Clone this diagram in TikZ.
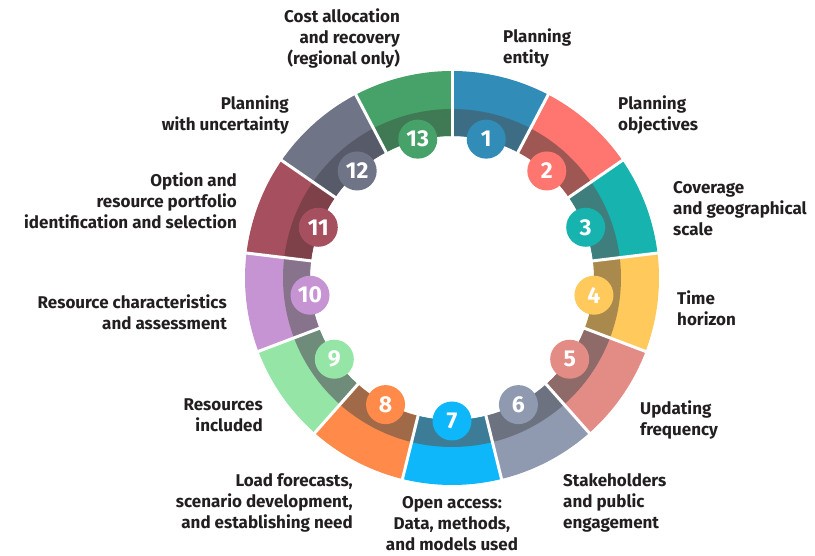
\documentclass[tikz,border=0pt]{standalone}
\usepackage{fontspec}
\setmainfont{Fira Sans}
\definecolor{c1}{HTML}{318CB8}\definecolor{d1}{HTML}{3D6D85}
\definecolor{c2}{HTML}{FF7570}\definecolor{d2}{HTML}{9E5753}
\definecolor{c3}{HTML}{17B3AF}\definecolor{d3}{HTML}{3E7F7E}
\definecolor{c4}{HTML}{FFC95C}\definecolor{d4}{HTML}{A98A4C}
\definecolor{c5}{HTML}{E38C86}\definecolor{d5}{HTML}{8E6A69}
\definecolor{c6}{HTML}{8F9AB0}\definecolor{d6}{HTML}{6C7280}
\definecolor{c7}{HTML}{0DB7FA}\definecolor{d7}{HTML}{3C7C96}
\definecolor{c8}{HTML}{FF8A4A}\definecolor{d8}{HTML}{A06A48}
\definecolor{c9}{HTML}{95E5A6}\definecolor{d9}{HTML}{6F8B7A}
\definecolor{c10}{HTML}{C694D2}\definecolor{d10}{HTML}{88738C}
\definecolor{c11}{HTML}{A6505F}\definecolor{d11}{HTML}{7E4049}
\definecolor{c12}{HTML}{707487}\definecolor{d12}{HTML}{575A69}
\definecolor{c13}{HTML}{47A26A}\definecolor{d13}{HTML}{407A55}
\definecolor{txt}{HTML}{231F20}
\tikzset{
  lbl/.style={font=\bfseries\fontsize{17}{21}\selectfont, text=txt, inner sep=0pt},
  lblL/.style={lbl, align=left},
  lblR/.style={lbl, align=right},
  lblC/.style={lbl, align=center},
  numdot/.style={circle, inner sep=0pt, minimum size=39pt, text=white,
    font=\bfseries\fontsize{23}{23}\selectfont}
}
\begin{document}
\begin{tikzpicture}[x=1pt,y=1pt]
\useasboundingbox (0,0) rectangle (815,556);
\coordinate (O) at (452,278);
\foreach \i in {1,...,13}{
  \pgfmathsetmacro\a{90-(\i-1)*360/13}
  \pgfmathsetmacro\b{\a-360/13}
  \fill[c\i] ([shift={(\a:207)}]O) arc[start angle=\a,end angle=\b,radius=207]
     -- ([shift={(\b:142)}]O) arc[start angle=\b,end angle=\a,radius=142] -- cycle;
  \fill[d\i] ([shift={(\a:169)}]O) arc[start angle=\a,end angle=\b,radius=169]
     -- ([shift={(\b:142)}]O) arc[start angle=\b,end angle=\a,radius=142] -- cycle;
}
\foreach \i in {1,...,13}{
  \pgfmathsetmacro\a{90-(\i-1)*360/13}
  \draw[white, line width=3pt] ([shift={(\a:138)}]O) -- ([shift={(\a:211)}]O);
}
\foreach \i in {1,...,13}{
  \pgfmathsetmacro\m{90-(\i-1)*360/13-180/13}
  \node[numdot, fill=c\i] (n\i) at ([shift={(\m:143)}]O) {\i};
}
\node[lblR, anchor=north east] (t13) at (400,547) {Cost allocation\\and recovery\\(regional only)};
\node[lblL, anchor=north west] (t1) at (503,527) {Planning\\entity};
\node[lblL, anchor=north west] (t2) at (618,460) {Planning\\objectives};
\node[lblL, anchor=north west] (t3) at (673,375) {Coverage\\and geographical\\scale};
\node[lblL, anchor=north west] (t4) at (677,265) {Time\\horizon};
\node[lblL, anchor=north west] (t5) at (640,155) {Updating\\frequency};
\node[lblL, anchor=north west] (t6) at (563,83) {Stakeholders\\and public\\engagement};
\node[lblC, anchor=north] (t7) at (452,60) {Open access:\\Data, methods,\\and models used};
\node[lblR, anchor=north east] (t8) at (353,83) {Load forecasts,\\scenario development,\\and establishing need};
\node[lblR, anchor=north east] (t9) at (263,157) {Resources\\included};
\node[lblR, anchor=north east] (t10) at (227,261) {Resource characteristics\\and assessment};
\node[lblR, anchor=north east] (t11) at (237,383) {Option and\\resource portfolio\\identification and selection};
\node[lblR, anchor=north east] (t12) at (289,460) {Planning\\with uncertainty};
\end{tikzpicture}
\end{document}
